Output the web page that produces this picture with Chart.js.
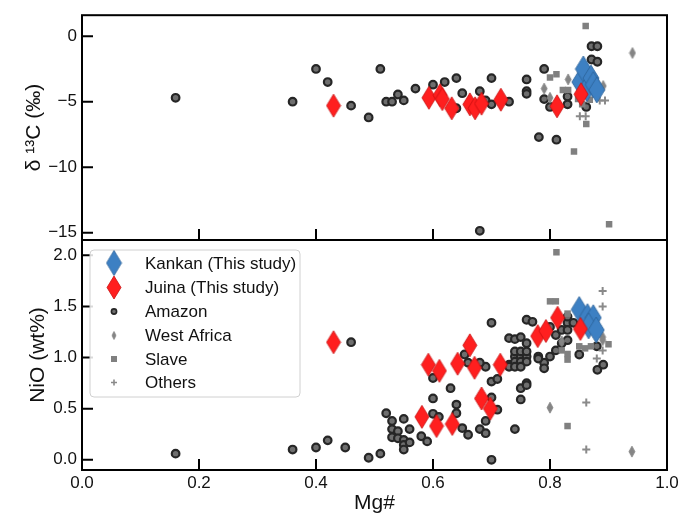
<!DOCTYPE html>
<html lang="en">
<head>
<meta charset="UTF-8">
<title>Mg# vs d13C and NiO</title>
<script src="https://cdn.jsdelivr.net/npm/chart.js"></script>
<style>
  body { margin: 0; background: #fff; }
  #wrap { position: relative; width: 682px; height: 514px; }
  #wrap canvas { position: absolute; left: 0; top: 0; }
</style>
</head>
<body>
<div id="wrap">
  <canvas id="topChart" width="682" height="514"></canvas>
  <canvas id="bottomChart" width="682" height="514"></canvas>
</div>
<script>
// ---- data: [Mg#, value] ----
const kankanC = [[0.851,-3.5],[0.857,-2.5],[0.863,-4.0],[0.870,-3.2],[0.874,-3.7],[0.880,-4.1]];
const juinaC = [[0.43,-5.3],[0.593,-4.7],[0.612,-4.5],[0.616,-4.8],[0.632,-5.5],[0.663,-5.2],[0.672,-5.5],
  [0.683,-5.15],[0.716,-4.85],[0.812,-5.35],[0.853,-4.43]];
const amazonC = [[0.16,-4.7],[0.36,-5.0],[0.40,-2.5],[0.42,-3.5],[0.46,-5.3],[0.49,-6.2],[0.51,-2.5],[0.52,-5.0],
  [0.53,-5.0],[0.54,-4.45],[0.55,-4.9],[0.57,-4.0],[0.60,-3.7],[0.62,-3.5],[0.64,-3.2],[0.64,-5.5],[0.65,-4.35],
  [0.68,-4.2],[0.69,-4.9],[0.70,-5.2],[0.70,-3.2],[0.73,-5.0],[0.76,-3.3],[0.76,-4.2],[0.76,-4.4],[0.79,-2.5],
  [0.79,-4.8],[0.80,-5.4],[0.83,-4.6],[0.83,-5.2],[0.862,-5.4],[0.871,-0.77],[0.881,-0.77],[0.871,-1.78],
  [0.881,-1.95],[0.781,-7.7],[0.811,-7.9],[0.68,-14.85]];
const westAfricaC = [[0.941,-1.28],[0.831,-3.3],[0.79,-4.0],[0.891,-3.8],[0.80,-4.7]];
const slaveC = [[0.861,0.77],[0.80,-3.15],[0.811,-2.9],[0.822,-4.1],[0.831,-4.1],[0.848,-4.8],[0.868,-4.85],
  [0.862,-6.7],[0.841,-8.8],[0.901,-14.35],[0.855,-5.2]];
const othersC = [[0.885,-4.9],[0.894,-4.9],[0.851,-6.1],[0.861,-6.1]];

const kankanNi = [[0.850,1.47],[0.864,1.40],[0.874,1.39],[0.866,1.31],[0.879,1.27]];
const juinaNi = [[0.43,1.15],[0.581,0.42],[0.592,0.93],[0.606,0.33],[0.611,0.87],[0.633,0.35],[0.642,0.94],
  [0.663,1.12],[0.671,0.90],[0.683,0.60],[0.698,0.50],[0.715,0.93],[0.779,1.21],[0.793,1.26],[0.813,1.39],[0.852,1.28]];
const amazonNi = [[0.16,0.06],[0.36,0.10],[0.40,0.12],[0.42,0.19],[0.45,0.12],[0.46,1.15],[0.49,0.02],[0.51,0.06],
  [0.52,0.455],[0.53,0.38],[0.55,0.40],[0.53,0.30],[0.54,0.28],[0.53,0.22],[0.54,0.21],[0.55,0.195],[0.55,0.146],
  [0.55,0.10],[0.56,0.17],[0.56,0.30],[0.58,0.23],[0.59,0.18],[0.60,0.60],[0.60,0.45],[0.61,0.42],[0.60,0.80],
  [0.63,0.70],[0.64,0.54],[0.64,0.455],[0.65,0.31],[0.66,0.245],[0.68,0.30],[0.69,0.26],[0.69,0.38],[0.70,0.61],
  [0.70,0.765],[0.71,0.79],[0.71,0.49],[0.70,0.00],[0.74,0.30],[0.73,0.93],[0.69,0.91],[0.654,1.03],[0.66,0.95],
  [0.75,0.70],[0.76,0.75],[0.75,0.59],[0.76,0.73],[0.74,1.01],[0.75,1.01],[0.76,1.01],[0.74,0.96],[0.75,0.96],
  [0.76,0.96],[0.74,1.06],[0.75,1.06],[0.76,1.06],[0.73,0.91],[0.74,0.91],[0.75,0.91],[0.78,1.01],[0.79,0.95],
  [0.79,0.895],[0.80,1.01],[0.85,1.03],[0.881,0.88],[0.891,0.93],[0.70,1.34],[0.76,1.37],[0.77,1.35],[0.73,1.19],
  [0.74,1.18],[0.75,1.20],[0.76,1.14],[0.78,0.99],[0.81,1.07],[0.82,1.14],[0.81,1.22],[0.82,1.27],[0.83,1.34],
  [0.83,1.40],[0.84,1.34],[0.83,1.27],[0.83,1.17],[0.88,1.11],[0.68,0.95],[0.80,1.30]];
const westAfricaNi = [[0.80,0.51],[0.94,0.08],[0.82,1.16],[0.89,1.20],[0.89,1.17]];
const slaveNi = [[0.811,2.03],[0.80,1.55],[0.81,1.55],[0.82,1.07],[0.83,1.035],[0.83,0.98],[0.85,1.11],[0.86,1.09],
  [0.87,1.11],[0.90,1.13],[0.83,1.43],[0.83,0.33]];
const othersNi = [[0.89,1.65],[0.89,1.50],[0.89,1.07],[0.88,0.99],[0.862,0.56],[0.862,0.10]];

const xTickVals = [0, 0.2, 0.4, 0.6, 0.8, 1.0];
const cTickVals = [0, -5, -10, -15];
const niTickVals = [0, 0.5, 1.0, 1.5, 2.0];

const FONT = "'Liberation Sans', Arial, sans-serif";
Chart.defaults.font.family = FONT;

// marker images
function diamondImg(w, h, fill, stroke) {
  const c = document.createElement('canvas');
  c.width = w + 2; c.height = h + 2;
  const g = c.getContext('2d');
  g.beginPath();
  g.moveTo(c.width / 2, 1);
  g.lineTo(c.width - 1, c.height / 2);
  g.lineTo(c.width / 2, c.height - 1);
  g.lineTo(1, c.height / 2);
  g.closePath();
  g.fillStyle = fill; g.fill();
  g.lineWidth = 0.8; g.strokeStyle = stroke; g.stroke();
  return c;
}
const blueDiamond = diamondImg(16, 26, '#3d80c3', '#2c6299');
const redDiamond = diamondImg(14, 23, '#ff1f1f', '#c81010');
const greyDiamond = diamondImg(6, 11, '#858585', '#858585');

function pts(arr) { return arr.map(p => ({ x: p[0], y: p[1] })); }

function makeSets(kankan, juina, amazon, wa, slave, others) {
  return [
    { label: 'Kankan (This study)', data: pts(kankan), pointStyle: blueDiamond, order: 1 },
    { label: 'Juina (This study)', data: pts(juina), pointStyle: redDiamond, order: 0 },
    { label: 'Amazon', data: pts(amazon), pointStyle: 'circle', pointRadius: 3.8, backgroundColor: '#6e6e6e',
      borderColor: '#262626', borderWidth: 2.2, order: 5 },
    { label: 'West Africa', data: pts(wa), pointStyle: greyDiamond, order: 4 },
    { label: 'Slave', data: pts(slave), pointStyle: 'rect', pointRadius: 4.6, backgroundColor: '#808080',
      borderColor: '#808080', borderWidth: 0, order: 3 },
    { label: 'Others', data: pts(others), pointStyle: 'cross', pointRadius: 4, borderColor: '#8a8a8a',
      borderWidth: 2, order: 2 }
  ];
}

function fmtTick(v) {
  return v < 0 ? '\u2212' + Math.abs(v) : String(v);
}

// frame, inward ticks, axis titles, legend
const framePlugin = {
  id: 'frame',
  afterDraw(chart, args, opts) {
    const { ctx, chartArea: a, scales } = chart;
    ctx.save();
    ctx.strokeStyle = '#000';
    ctx.lineWidth = 2;
    ctx.beginPath();
    xTickVals.forEach(v => {
      const px = scales.x.getPixelForValue(v);
      ctx.moveTo(px, a.bottom); ctx.lineTo(px, a.bottom - 11);
    });
    opts.yTicks.forEach(v => {
      const py = scales.y.getPixelForValue(v);
      ctx.moveTo(a.left, py); ctx.lineTo(a.left + 11, py);
    });
    ctx.stroke();
    ctx.strokeRect(a.left, a.top, a.right - a.left, a.bottom - a.top);

    ctx.fillStyle = '#111';
    ctx.font = '21px ' + FONT;
    ctx.textAlign = 'center';
    ctx.textBaseline = 'middle';
    ctx.save();
    ctx.translate(opts.yTitleX, (a.top + a.bottom) / 2);
    ctx.rotate(-Math.PI / 2);
    ctx.fillText(opts.yTitle, 0, 0);
    ctx.restore();
    if (opts.xTitle) ctx.fillText(opts.xTitle, (a.left + a.right) / 2, 503);

    if (opts.legend) {
      const bx = 90, by = 250, bw = 210, bh = 147, r = 4;
      ctx.beginPath();
      ctx.roundRect(bx, by, bw, bh, r);
      ctx.fillStyle = 'rgba(255,255,255,0.85)';
      ctx.fill();
      ctx.lineWidth = 1;
      ctx.strokeStyle = '#d0d0d0';
      ctx.stroke();
      const rows = [263, 287.5, 311.5, 335.5, 359, 382.5];
      const sets = chart.data.datasets;
      ctx.font = '17px ' + FONT;
      ctx.textAlign = 'left';
      rows.forEach((y, i) => {
        const ds = sets[i];
        const mx = 114;
        if (i === 0) ctx.drawImage(blueDiamond, mx - 8.5, y - 13.5, 17, 27);
        else if (i === 1) ctx.drawImage(redDiamond, mx - 8, y - 12.5, 16, 25);
        else if (i === 2) {
          ctx.beginPath(); ctx.arc(mx, y, 2.6, 0, Math.PI * 2);
          ctx.fillStyle = '#6e6e6e'; ctx.fill();
          ctx.lineWidth = 1.6; ctx.strokeStyle = '#262626'; ctx.stroke();
        } else if (i === 3) ctx.drawImage(diamondImg(4, 8, '#858585', '#858585'), mx - 3, y - 5);
        else if (i === 4) { ctx.fillStyle = '#808080'; ctx.fillRect(mx - 3, y - 3, 6, 6); }
        else {
          ctx.beginPath(); ctx.moveTo(mx - 3, y); ctx.lineTo(mx + 3, y);
          ctx.moveTo(mx, y - 3); ctx.lineTo(mx, y + 3);
          ctx.lineWidth = 1.6; ctx.strokeStyle = '#8a8a8a'; ctx.stroke();
        }
        ctx.fillStyle = '#111';
        ctx.fillText(ds.label, 145, y + 1);
      });
    }
    ctx.restore();
  }
};

const tickFont = { size: 17, family: FONT };

function yScale(min, max, step, ticksArr, fmt) {
  return {
    type: 'linear', min: min, max: max,
    afterFit: s => { s.width = 82; },
    afterBuildTicks: s => { s.ticks = ticksArr.map(v => ({ value: v })); },
    grid: { display: false, drawTicks: false },
    border: { display: false },
    ticks: { padding: 5, color: '#111', font: tickFont, callback: fmt }
  };
}

new Chart(document.getElementById('topChart'), {
  type: 'scatter',
  data: { datasets: makeSets(kankanC, juinaC, amazonC, westAfricaC, slaveC, othersC) },
  options: {
    responsive: false, animation: false, events: [],
    layout: { padding: { top: 12, bottom: 274, left: 0, right: 15 } },
    plugins: {
      legend: { display: false }, tooltip: { enabled: false },
      frame: { yTicks: cTickVals, yTitle: '\u03b4 \u00b9\u00b3C (\u2030)', yTitleX: 34 }
    },
    scales: {
      x: { type: 'linear', min: 0, max: 1, display: false },
      y: yScale(-15.55, 1.6, 5, cTickVals, fmtTick)
    }
  },
  plugins: [framePlugin]
});

new Chart(document.getElementById('bottomChart'), {
  type: 'scatter',
  data: { datasets: makeSets(kankanNi, juinaNi, amazonNi, westAfricaNi, slaveNi, othersNi) },
  options: {
    responsive: false, animation: false, events: [],
    layout: { padding: { top: 240, bottom: 0, left: 0, right: 15 } },
    plugins: {
      legend: { display: false }, tooltip: { enabled: false },
      frame: { yTicks: niTickVals, yTitle: 'NiO (wt%)', yTitleX: 38, xTitle: 'Mg#', legend: true }
    },
    scales: {
      x: {
        type: 'linear', min: 0, max: 1,
        afterFit: s => { s.height = 44; },
        afterBuildTicks: s => { s.ticks = xTickVals.map(v => ({ value: v })); },
        grid: { display: false, drawTicks: false },
        border: { display: false },
        ticks: { padding: 3, color: '#111', font: tickFont, maxRotation: 0, callback: v => v.toFixed(1) }
      },
      y: yScale(-0.1, 2.15, 0.5, niTickVals, v => v.toFixed(1))
    }
  },
  plugins: [framePlugin]
});
</script>
</body>
</html>
